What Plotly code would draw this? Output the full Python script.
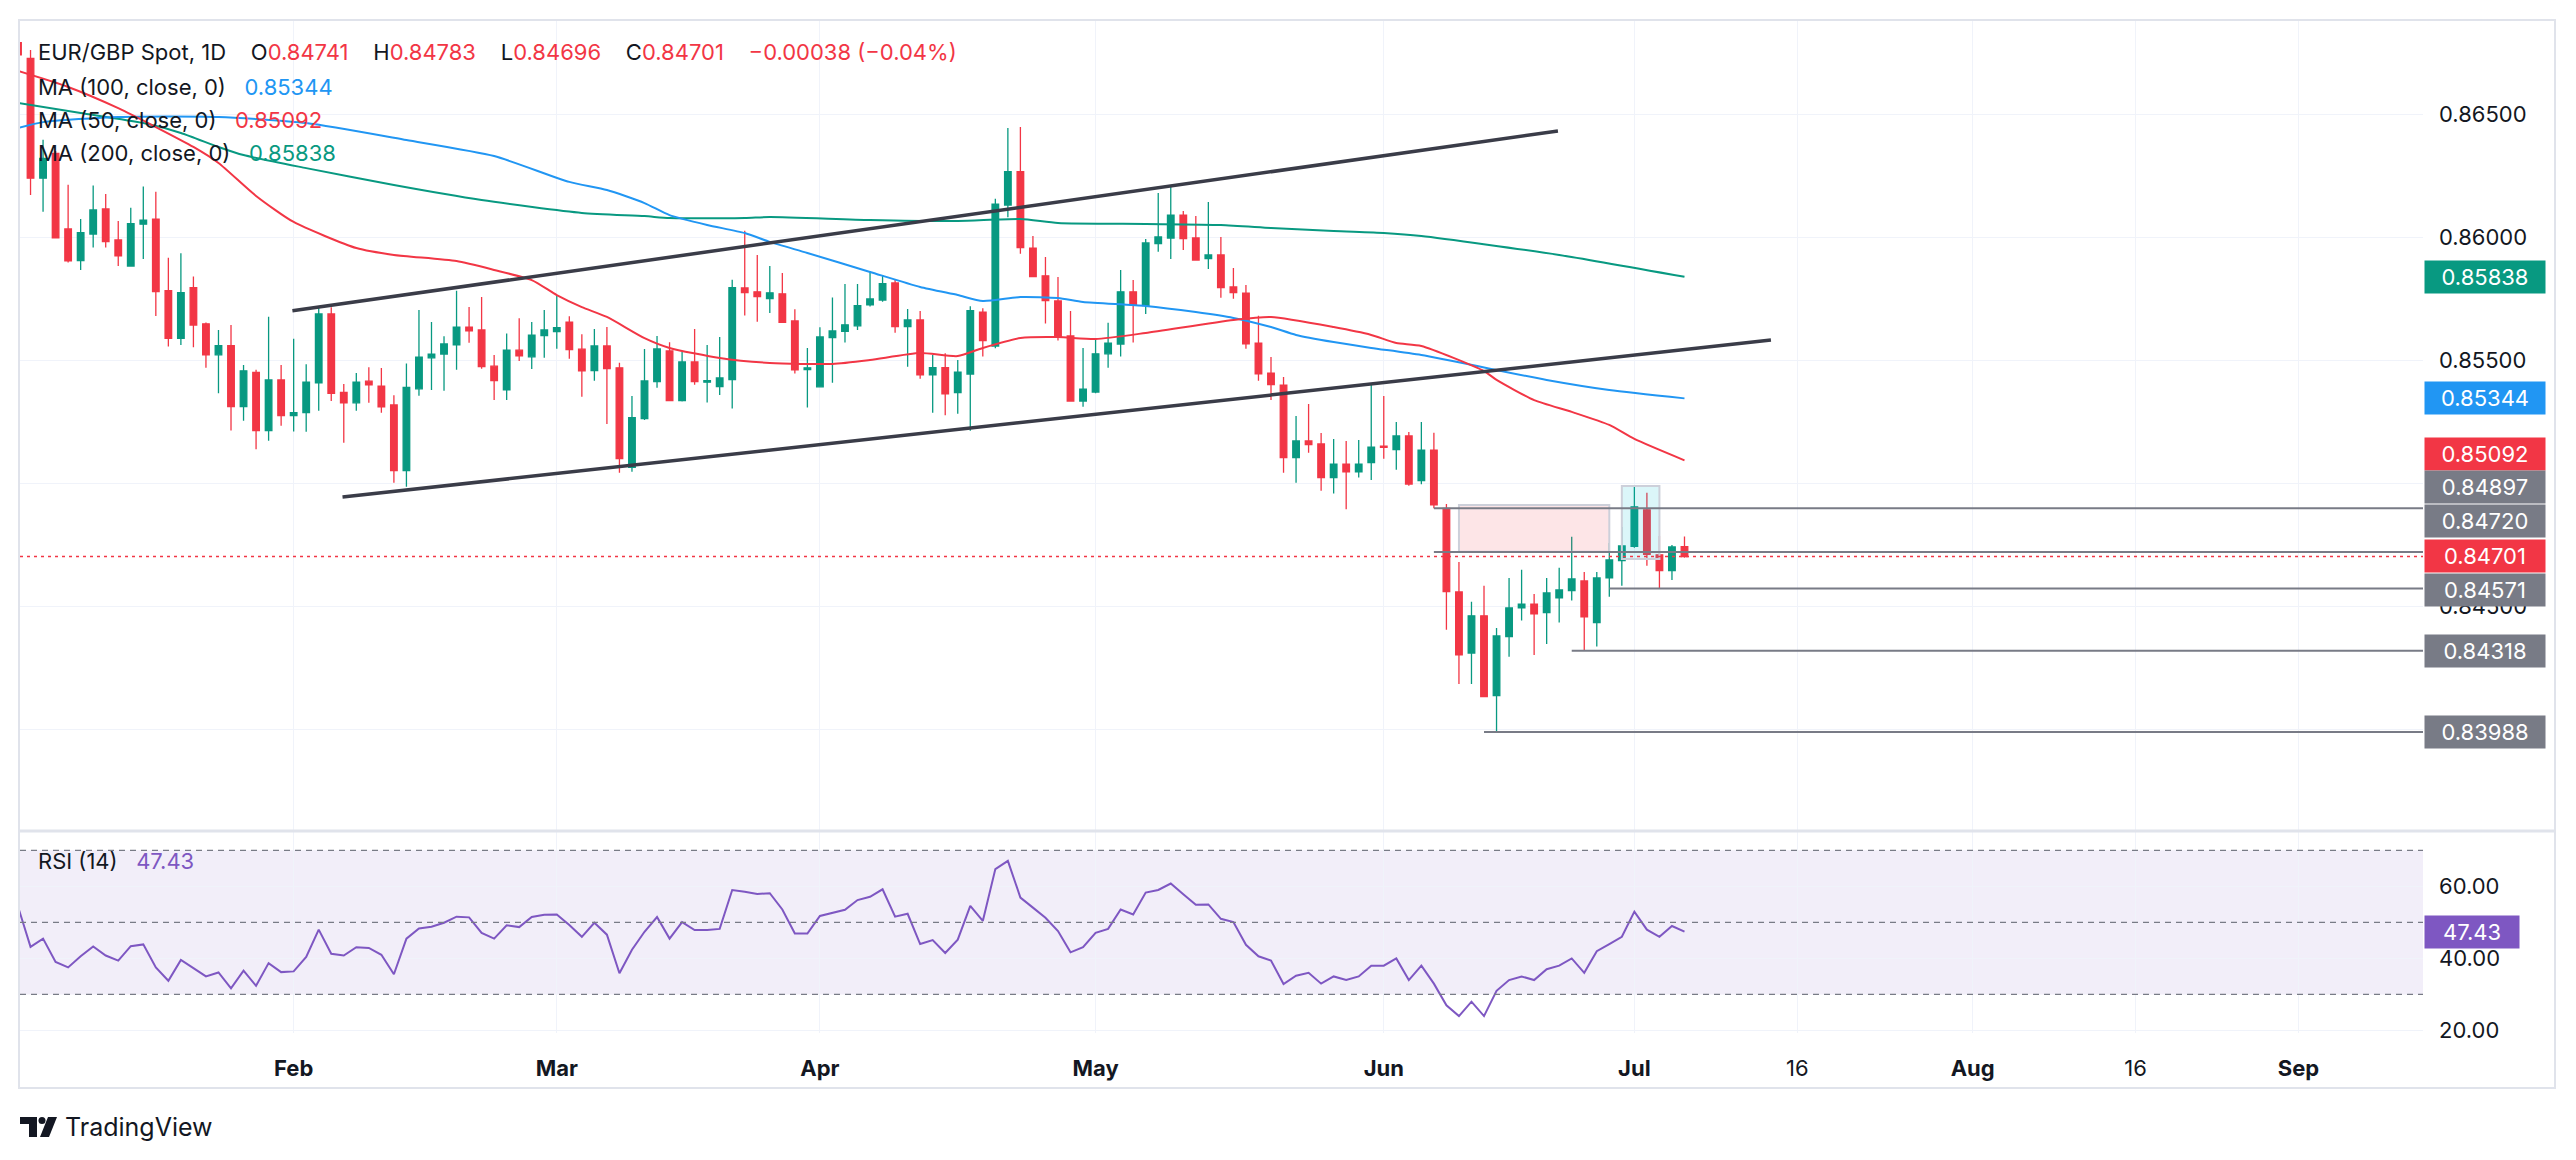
import plotly.graph_objects as go

# ---------------- DATA ----------------
# bar index 0 = 2024-01-02 ... 133 = 2024-07-05 (daily EUR/GBP)
bar_index = list(range(134))
opens = [0.86790, 0.86726, 0.86239, 0.86340, 0.86033, 0.85904, 0.86012, 0.86114, 0.85988, 0.85882,
         0.86052, 0.86073, 0.85782, 0.85588, 0.85794, 0.85647, 0.85521, 0.85558, 0.85311, 0.85450,
         0.85213, 0.85419, 0.85274, 0.85286, 0.85407, 0.85687, 0.85368, 0.85326, 0.85414, 0.85394,
         0.85317, 0.85050, 0.85383, 0.85509, 0.85524, 0.85562, 0.85634, 0.85622, 0.85475, 0.85379,
         0.85540, 0.85513, 0.85599, 0.85615, 0.85654, 0.85544, 0.85457, 0.85557, 0.85468, 0.85064,
         0.85262, 0.85412, 0.85537, 0.85335, 0.85492, 0.85410, 0.85392, 0.85420, 0.85793, 0.85777,
         0.85750, 0.85769, 0.85659, 0.85461, 0.85391, 0.85591, 0.85616, 0.85639, 0.85724, 0.85744,
         0.85813, 0.85636, 0.85663, 0.85440, 0.85469, 0.85367, 0.85443, 0.85695, 0.85557, 0.86130,
         0.86266, 0.85955, 0.85842, 0.85740, 0.85598, 0.85333, 0.85370, 0.85525, 0.85565, 0.85777,
         0.85721, 0.85973, 0.85996, 0.86089, 0.85996, 0.85912, 0.85927, 0.85797, 0.85772, 0.85569,
         0.85447, 0.85398, 0.85103, 0.85171, 0.85159, 0.85022, 0.85077, 0.85045, 0.85083, 0.85150,
         0.85136, 0.85191, 0.85010, 0.85134, 0.84897, 0.84557, 0.84309, 0.84460, 0.84136, 0.84376,
         0.84492, 0.84508, 0.84473, 0.84533, 0.84563, 0.84602, 0.84433, 0.84614, 0.84685, 0.84742,
         0.84891, 0.84708, 0.84644, 0.84741]
highs = [0.86830, 0.86760, 0.86395, 0.86350, 0.86212, 0.86073, 0.86209, 0.86175, 0.86065, 0.86119,
         0.86205, 0.86184, 0.85916, 0.85934, 0.85839, 0.85652, 0.85622, 0.85642, 0.85480, 0.85460,
         0.85676, 0.85480, 0.85586, 0.85483, 0.85719, 0.85714, 0.85402, 0.85447, 0.85471, 0.85467,
         0.85357, 0.85486, 0.85703, 0.85654, 0.85597, 0.85781, 0.85715, 0.85756, 0.85520, 0.85608,
         0.85670, 0.85654, 0.85703, 0.85760, 0.85678, 0.85605, 0.85626, 0.85634, 0.85489, 0.85354,
         0.85545, 0.85598, 0.85572, 0.85533, 0.85626, 0.85561, 0.85594, 0.85826, 0.86025, 0.85927,
         0.85882, 0.85854, 0.85706, 0.85549, 0.85633, 0.85754, 0.85809, 0.85809, 0.85862, 0.85846,
         0.85829, 0.85707, 0.85699, 0.85520, 0.85527, 0.85500, 0.85718, 0.85710, 0.86155, 0.86443,
         0.86447, 0.86004, 0.85919, 0.85837, 0.85699, 0.85549, 0.85585, 0.85651, 0.85866, 0.85825,
         0.85992, 0.86179, 0.86209, 0.86106, 0.86085, 0.86142, 0.86000, 0.85874, 0.85805, 0.85680,
         0.85512, 0.85431, 0.85272, 0.85321, 0.85203, 0.85179, 0.85171, 0.85175, 0.85406, 0.85354,
         0.85248, 0.85207, 0.85248, 0.85204, 0.84915, 0.84679, 0.84517, 0.84582, 0.84411, 0.84614,
         0.84647, 0.84549, 0.84614, 0.84655, 0.84781, 0.84638, 0.84638, 0.84756, 0.84821, 0.84988,
         0.84960, 0.84785, 0.84748, 0.84783]
lows = [0.86680, 0.86171, 0.86103, 0.85997, 0.85896, 0.85866, 0.85957, 0.85957, 0.85882, 0.85880,
        0.85911, 0.85679, 0.85555, 0.85561, 0.85552, 0.85469, 0.85365, 0.85213, 0.85253, 0.85137,
        0.85172, 0.85233, 0.85209, 0.85208, 0.85294, 0.85333, 0.85164, 0.85294, 0.85326, 0.85286,
        0.85001, 0.84985, 0.85355, 0.85378, 0.85375, 0.85460, 0.85570, 0.85464, 0.85337, 0.85337,
        0.85496, 0.85463, 0.85509, 0.85546, 0.85505, 0.85351, 0.85416, 0.85240, 0.85042, 0.85046,
        0.85256, 0.85387, 0.85333, 0.85331, 0.85399, 0.85327, 0.85358, 0.85303, 0.85681, 0.85655,
        0.85691, 0.85651, 0.85445, 0.85307, 0.85389, 0.85408, 0.85571, 0.85622, 0.85717, 0.85737,
        0.85611, 0.85473, 0.85424, 0.85286, 0.85275, 0.85282, 0.85212, 0.85514, 0.85548, 0.86080,
        0.85932, 0.85837, 0.85648, 0.85579, 0.85331, 0.85310, 0.85365, 0.85469, 0.85514, 0.85571,
        0.85687, 0.85940, 0.85911, 0.85947, 0.85904, 0.85870, 0.85753, 0.85749, 0.85546, 0.85416,
        0.85337, 0.85042, 0.85001, 0.85123, 0.84968, 0.84957, 0.84893, 0.85022, 0.85012, 0.85099,
        0.85054, 0.84989, 0.84995, 0.84897, 0.84403, 0.84183, 0.84183, 0.84132, 0.83988, 0.84294,
        0.84441, 0.84301, 0.84346, 0.84433, 0.84522, 0.84318, 0.84335, 0.84538, 0.84582, 0.84737,
        0.84664, 0.84571, 0.84606, 0.84696]
closes = [0.86740, 0.86239, 0.86320, 0.85997, 0.85903, 0.86018, 0.86110, 0.85981, 0.85923, 0.86054,
          0.86069, 0.85778, 0.85588, 0.85774, 0.85642, 0.85521, 0.85558, 0.85311, 0.85456, 0.85213,
          0.85419, 0.85274, 0.85286, 0.85410, 0.85687, 0.85364, 0.85326, 0.85410, 0.85399, 0.85310,
          0.85050, 0.85389, 0.85512, 0.85524, 0.85565, 0.85634, 0.85619, 0.85473, 0.85416, 0.85540,
          0.85517, 0.85601, 0.85622, 0.85631, 0.85542, 0.85456, 0.85557, 0.85465, 0.85099, 0.85266,
          0.85415, 0.85545, 0.85335, 0.85492, 0.85412, 0.85416, 0.85427, 0.85794, 0.85774, 0.85758,
          0.85773, 0.85653, 0.85460, 0.85468, 0.85594, 0.85618, 0.85643, 0.85721, 0.85748, 0.85810,
          0.85636, 0.85663, 0.85440, 0.85469, 0.85362, 0.85451, 0.85701, 0.85579, 0.86134, 0.86266,
          0.85957, 0.85839, 0.85741, 0.85594, 0.85333, 0.85382, 0.85525, 0.85569, 0.85777, 0.85724,
          0.85976, 0.86000, 0.86089, 0.85993, 0.85906, 0.85927, 0.85794, 0.85774, 0.85566, 0.85444,
          0.85400, 0.85103, 0.85171, 0.85156, 0.85022, 0.85077, 0.85045, 0.85077, 0.85146, 0.85145,
          0.85191, 0.84996, 0.85134, 0.84911, 0.84559, 0.84301, 0.84460, 0.84132, 0.84378, 0.84492,
          0.84508, 0.84468, 0.84553, 0.84565, 0.84610, 0.84456, 0.84614, 0.84687, 0.84744, 0.84903,
          0.84710, 0.84644, 0.84740, 0.84701]

# moving averages (bar index, value)
ma50_idx = [0, 4, 8, 11, 14, 16, 19, 22, 27, 30, 35, 38, 41, 43, 45, 47, 50, 52, 56, 60, 65, 68, 72, 75,
            77, 80, 83, 86, 90, 97, 100, 105, 108, 110, 112, 117, 118, 121, 124, 127, 129, 133]
ma50_val = [0.86675, 0.86610, 0.86524, 0.86447, 0.86366, 0.86301, 0.86167, 0.86061, 0.85955, 0.85927,
            0.85902, 0.85866, 0.85825, 0.85764, 0.85715, 0.85675, 0.85589, 0.85549, 0.85508, 0.85488,
            0.85484, 0.85500, 0.85528, 0.85516, 0.85549, 0.85589, 0.85593, 0.85585, 0.85610, 0.85663,
            0.85675, 0.85634, 0.85602, 0.85569, 0.85557, 0.85455, 0.85419, 0.85337, 0.85289, 0.85236,
            0.85179, 0.85092]
ma100_idx = [0, 2, 8, 16, 23, 31, 38, 44, 47, 50, 52, 55, 58, 60, 63, 68, 72, 75, 77, 80, 83, 85, 90,
             94, 97, 100, 102, 105, 108, 112, 122, 127, 133]
ma100_val = [0.86443, 0.86467, 0.86488, 0.86488, 0.86463, 0.86394, 0.86329, 0.86224, 0.86191, 0.86138,
             0.86089, 0.86049, 0.86016, 0.85980, 0.85935, 0.85858, 0.85797, 0.85764, 0.85740, 0.85756,
             0.85752, 0.85736, 0.85720, 0.85695, 0.85671, 0.85634, 0.85602, 0.85573, 0.85549, 0.85520,
             0.85419, 0.85378, 0.85344]
ma200_idx = [0, 5, 10, 13, 16, 18, 23, 30, 37, 45, 50, 52, 58, 60, 68, 75, 80, 83, 90, 96, 100, 105,
             109, 112, 123, 133]
ma200_val = [0.86545, 0.86504, 0.86463, 0.86423, 0.86366, 0.86333, 0.86280, 0.86211, 0.86150, 0.86098,
             0.86085, 0.86077, 0.86077, 0.86081, 0.86069, 0.86065, 0.86073, 0.86057, 0.86053, 0.86049,
             0.86037, 0.86024, 0.86016, 0.86004, 0.85927, 0.85838]

rsi = [54.4, 43.2, 45.5, 39.0, 37.5, 40.6, 43.3, 40.8, 39.4, 43.4,
       43.9, 37.5, 33.8, 39.6, 37.3, 35.0, 36.1, 31.7, 36.6, 32.4,
       38.7, 36.2, 36.4, 40.4, 48.0, 41.3, 40.8, 43.1, 42.9, 41.0,
       35.6, 45.5, 48.3, 48.8, 49.9, 51.6, 51.4, 47.1, 45.5, 49.2,
       48.7, 51.5, 52.1, 52.2, 49.3, 46.0, 49.9, 46.6, 35.9, 42.4,
       47.4, 51.5, 45.5, 50.1, 47.9, 47.9, 48.2, 59.0, 58.5, 57.9,
       58.1, 53.6, 46.9, 46.9, 51.8, 52.7, 53.5, 56.2, 57.1, 59.2,
       51.6, 52.4, 44.0, 45.1, 41.5, 45.2, 54.6, 50.4, 64.8, 67.1,
       56.9, 54.1, 51.3, 47.6, 41.7, 43.1, 47.1, 48.2, 53.6, 52.2,
       58.3, 59.0, 60.8, 57.8, 54.9, 55.0, 51.0, 50.1, 43.8, 40.6,
       39.4, 32.9, 35.2, 36.0, 33.0, 35.0, 34.0, 35.0, 38.0, 38.0,
       40.0, 34.0, 38.0, 33.0, 27.0, 24.0, 28.0, 24.0, 31.0, 34.0,
       35.0, 34.0, 37.0, 38.0, 40.0, 36.0, 42.0, 44.0, 46.0, 53.0,
       48.0, 46.0, 49.0, 47.43]

# drawn channel lines: (start idx, start price, end idx, end price)
channel_upper = (21.9, 0.85700, 122.9, 0.86431)
channel_lower = (25.9, 0.84943, 139.9, 0.85581)
# horizontal levels: (start idx, price)
levels = [(113, 0.84897), (113, 0.84720), (127, 0.84571), (124, 0.84318), (117, 0.83988)]
# zones: (x0, x1, y0, y1)
zone_red = (115, 127, 0.84721, 0.84911)
zone_blue = (128, 131, 0.84691, 0.84988)

price_ticks = [0.840, 0.845, 0.850, 0.855, 0.860, 0.865]
price_tick_text = ["", "0.84500", "", "0.85500", "0.86000", "0.86500"]
rsi_ticks = [20, 40, 60]
rsi_tick_text = ["20.00", "40.00", "60.00"]
time_ticks = [22, 43, 64, 86, 109, 129, 142, 156, 169, 182]
time_tick_text = ["<b>Feb</b>", "<b>Mar</b>", "<b>Apr</b>", "<b>May</b>", "<b>Jun</b>", "<b>Jul</b>",
                  "16", "<b>Aug</b>", "16", "<b>Sep</b>"]

last_open, last_high, last_low, last_close = 0.84741, 0.84783, 0.84696, 0.84701
ma100_last, ma50_last, ma200_last, rsi_last = 0.85344, 0.85092, 0.85838, 47.43

# ---------------- STYLE ----------------
GREEN = "#089981"
RED = "#f23645"
BLUE = "#2196f3"
GRAY = "#787b86"
PURPLE = "#7e57c2"
TEXT = "#131722"
GRID = "#f0f3fa"
BORDER = "#e0e3eb"
FONT = "Inter"

# page body has an 8px default margin; figure is sized so the plot lands on the target pixels
OFF = 8
W, H = 2576 - OFF, 1160 - OFF
ML, MR, MT, MB = 20 - OFF, 153, 20 - OFF, 127
PW, PH = W - ML - MR, H - MT - MB
PLOT_L, PLOT_B = 20, 1033  # screen pixels of the plot's left / bottom edge


def px(x):
    return (x - PLOT_L) / PW


def py(y):
    return (PLOT_B - y) / PH


fig = go.Figure()

fig.add_trace(go.Candlestick(
    x=bar_index, open=opens, high=highs, low=lows, close=closes,
    increasing=dict(line=dict(color=GREEN, width=1.3), fillcolor=GREEN),
    decreasing=dict(line=dict(color=RED, width=1.3), fillcolor=RED),
    whiskerwidth=0, hoverinfo="skip", showlegend=False, xaxis="x", yaxis="y"))

for xs, ys, col in [(ma200_idx, ma200_val, GREEN), (ma100_idx, ma100_val, BLUE), (ma50_idx, ma50_val, RED)]:
    fig.add_trace(go.Scatter(x=xs, y=ys, mode="lines", line=dict(color=col, width=2, shape="spline", smoothing=0.6),
                             hoverinfo="skip", showlegend=False, xaxis="x", yaxis="y"))

fig.add_trace(go.Scatter(x=bar_index, y=rsi, mode="lines", line=dict(color=PURPLE, width=2),
                         hoverinfo="skip", showlegend=False, xaxis="x", yaxis="y2"))

shapes = []
# RSI band and levels
shapes.append(dict(type="rect", xref="paper", yref="y2", x0=0, x1=1, y0=30, y1=70,
                   fillcolor="rgba(126,87,194,0.1)", line=dict(width=0), layer="below"))
for lv in (70, 50, 30):
    shapes.append(dict(type="line", xref="paper", yref="y2", x0=0, x1=1, y0=lv, y1=lv,
                       line=dict(color=GRAY, width=1.3, dash="6px,5px")))
# zones
shapes.append(dict(type="rect", xref="x", yref="y", x0=zone_red[0], x1=zone_red[1], y0=zone_red[2], y1=zone_red[3],
                   fillcolor="rgba(242,54,69,0.13)", line=dict(color="#cdd0da", width=2)))
shapes.append(dict(type="rect", xref="x", yref="y", x0=zone_blue[0], x1=zone_blue[1], y0=zone_blue[2], y1=zone_blue[3],
                   fillcolor="rgba(0,188,212,0.14)", line=dict(color="#cdd0da", width=2)))
# horizontal levels
for x0, lv in levels:
    shapes.append(dict(type="line", xref="x", yref="y", x0=x0, x1=200, y0=lv, y1=lv,
                       line=dict(color=GRAY, width=2)))
# channel lines
for (x0, y0, x1, y1) in (channel_upper, channel_lower):
    shapes.append(dict(type="line", xref="x", yref="y", x0=x0, x1=x1, y0=y0, y1=y1,
                       line=dict(color="#3a3c48", width=3.5)))
# last price line
shapes.append(dict(type="line", xref="paper", yref="y", x0=0, x1=1, y0=last_close, y1=last_close,
                   line=dict(color=RED, width=1.5, dash="3px,4px")))
# frame
right_edge = px(2555)
shapes.append(dict(type="rect", xref="paper", yref="paper", x0=px(19), x1=right_edge, y0=py(1088), y1=py(20),
                   line=dict(color=BORDER, width=2), fillcolor="rgba(0,0,0,0)"))
shapes.append(dict(type="line", xref="paper", yref="paper", x0=px(19), x1=right_edge, y0=py(831), y1=py(831),
                   line=dict(color=BORDER, width=3)))
# TradingView logo (simple glyph)
shapes.append(dict(type="path", xref="paper", yref="paper",
                   path=f"M {px(20)} {py(1117)} L {px(37)} {py(1117)} L {px(37)} {py(1137)} L {px(29)} {py(1137)} "
                        f"L {px(29)} {py(1124)} L {px(20)} {py(1124)} Z",
                   fillcolor=TEXT, line=dict(width=0)))
shapes.append(dict(type="circle", xref="paper", yref="paper", x0=px(38.5), x1=px(45.5), y0=py(1124), y1=py(1117),
                   fillcolor=TEXT, line=dict(width=0)))
shapes.append(dict(type="path", xref="paper", yref="paper",
                   path=f"M {px(48)} {py(1117)} L {px(57)} {py(1117)} L {px(49)} {py(1137)} L {px(40)} {py(1137)} Z",
                   fillcolor=TEXT, line=dict(width=0)))

ann = []
LBL = 22


def box(value, color, yref="y", yshift=0, text=None, width=116):
    ann.append(dict(xref="paper", x=1, xanchor="left", xshift=1, yref=yref, y=value, yanchor="middle",
                    yshift=yshift, text=text if text else f"{value:.5f}", showarrow=False,
                    font=dict(family=FONT, size=LBL, color="white"), bgcolor=color,
                    width=width, height=28, borderpad=2, align="center"))


# price-scale labels (stacked upwards where they would collide, as on the original scale)
box(ma200_last, GREEN)
box(ma100_last, BLUE)
box(ma50_last, RED, yshift=6.5)
box(0.84897, GRAY, yshift=21)
box(0.84720, GRAY, yshift=31)
box(last_close, RED, yshift=1)
box(0.84571, GRAY, yshift=-1.5)
box(0.84318, GRAY)
box(0.83988, GRAY)
box(rsi_last, PURPLE, yref="y2", text=f"{rsi_last:.2f}", width=90)


def sp(c, t):
    return f"<span style='color:{c}'>{t}</span>"


gap = "\u00a0\u00a0\u00a0"
gap1 = "\u00a0\u00a0\u00a0\u00a0"
legend_lines = [
    (52, f"EUR/GBP Spot, 1D{gap1}O{sp(RED, f'{last_open:.5f}')}{gap1}H{sp(RED, f'{last_high:.5f}')}{gap1}"
         f"L{sp(RED, f'{last_low:.5f}')}{gap1}C{sp(RED, f'{last_close:.5f}')}{gap1}{sp(RED, '−0.00038 (−0.04%)')}"),
    (87, f"MA (100, close, 0){gap}{sp(BLUE, f'{ma100_last:.5f}')}"),
    (120, f"MA (50, close, 0){gap}{sp(RED, f'{ma50_last:.5f}')}"),
    (153, f"MA (200, close, 0){gap}{sp(GREEN, f'{ma200_last:.5f}')}"),
    (861, f"RSI (14){gap}{sp(PURPLE, f'{rsi_last:.2f}')}"),
]
for yy, t in legend_lines:
    ann.append(dict(xref="paper", yref="paper", x=px(36), y=py(yy), xanchor="left", yanchor="middle",
                    text=t, showarrow=False, font=dict(family=FONT, size=22, color=TEXT)))
ann.append(dict(xref="paper", yref="paper", x=px(63), y=py(1127), xanchor="left", yanchor="middle",
                text="TradingView", showarrow=False, font=dict(family=FONT, size=25, color=TEXT)))

x_lo = (PLOT_L - 18) / 12.53
x_hi = x_lo + PW / 12.53

main_lo = 0.840 - 101 / 24600
main_hi = 0.840 + 709 / 24600
split_main = py(830)
split_rsi = py(832)

fig.update_layout(
    width=W, height=H, margin=dict(l=ML, r=MR, t=MT, b=MB),
    paper_bgcolor="white", plot_bgcolor="white", showlegend=False,
    font=dict(family=FONT, color=TEXT),
    shapes=shapes, annotations=ann,
    xaxis=dict(domain=[0, 1], anchor="y2", range=[x_lo, x_hi], tickvals=time_ticks, ticktext=time_tick_text,
               showgrid=True, gridcolor=GRID, gridwidth=1, zeroline=False, showline=False, ticks="",
               ticklabelstandoff=20, tickfont=dict(family=FONT, size=22, color=TEXT),
               rangeslider=dict(visible=False)),
    yaxis=dict(domain=[split_main, 1], anchor="x", side="right", range=[main_lo, main_hi],
               tickvals=price_ticks, ticktext=price_tick_text, showgrid=True, gridcolor=GRID, gridwidth=1,
               zeroline=False, showline=False, ticks="", ticklabelstandoff=15,
               tickfont=dict(family=FONT, size=LBL, color=TEXT)),
    yaxis2=dict(domain=[0, split_rsi], anchor="x", side="right", range=[19.3, 75.1],
                tickvals=rsi_ticks, ticktext=rsi_tick_text, showgrid=True, gridcolor=GRID, gridwidth=1,
                zeroline=False, showline=False, ticks="", ticklabelstandoff=15,
                tickfont=dict(family=FONT, size=LBL, color=TEXT)),
    boxgap=0.25,
)

fig.write_html("out.html")
